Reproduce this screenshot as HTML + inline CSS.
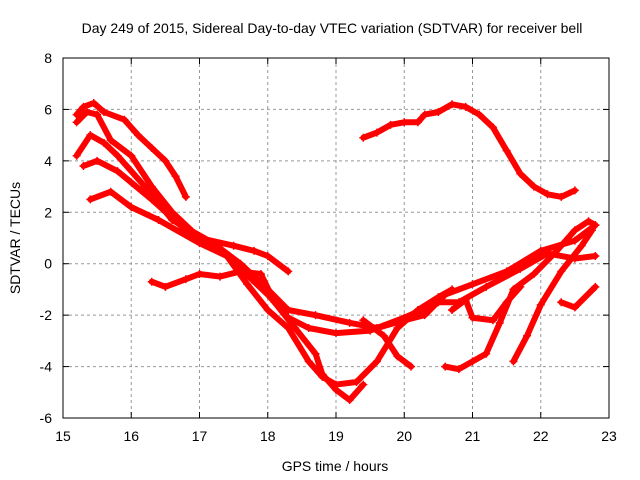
<!DOCTYPE html>
<html><head><meta charset="utf-8"><style>
body{margin:0;background:#fff;}
svg{display:block;font-family:"Liberation Sans",sans-serif;}
</style></head><body>
<svg id="chart" width="640" height="480">
<text x="332" y="33" font-size="14" text-anchor="middle">Day 249 of 2015, Sidereal Day-to-day VTEC variation (SDTVAR) for receiver bell</text>
<text x="335" y="471" font-size="14" text-anchor="middle">GPS time / hours</text>
<text x="20" y="238" font-size="14" text-anchor="middle" transform="rotate(-90 20 238)">SDTVAR / TECUs</text>
<g id="grid"></g><g id="ticks"></g><g id="series"></g>
<rect x="63" y="58" width="546" height="360" fill="none" stroke="#000"/>
</svg>
<script>
const xTicks=[15,16,17,18,19,20,21,22,23];
const yTicks=[-6,-4,-2,0,2,4,6,8];
const sA=[[19.4,4.9],[19.6,5.1],[19.8,5.4],[20.0,5.5],[20.2,5.5],[20.3,5.8],[20.5,5.9],[20.7,6.2],[20.9,6.1],[21.1,5.8],[21.3,5.3],[21.5,4.4],[21.7,3.5],[21.9,3.0],[22.1,2.7],[22.3,2.6],[22.5,2.85]];
const sB=[[15.2,5.8],[15.3,6.1],[15.45,6.25],[15.6,5.9],[15.9,5.6],[16.1,5.0],[16.3,4.5],[16.5,4.0],[16.65,3.4],[16.8,2.6]];
const sC=[[15.2,5.5],[15.35,5.9],[15.5,5.8],[15.7,4.8],[16.0,4.2],[16.3,3.0],[16.6,2.0],[17.0,1.0],[17.5,0.7],[17.8,0.5],[18.0,0.3],[18.3,-0.3]];
const sD=[[15.2,4.2],[15.4,5.0],[15.6,4.7],[15.8,4.2],[16.2,3.0],[16.6,1.7],[17.2,0.8],[17.6,0.0],[18.0,-1.0],[18.3,-1.8],[18.7,-2.0],[19.2,-2.3],[19.6,-2.5],[20.0,-2.2],[20.3,-2.0],[20.6,-1.2],[21.0,-0.8],[21.5,-0.3],[22.0,0.5],[22.5,0.9],[22.8,1.5]];
const sE=[[15.3,3.8],[15.5,4.0],[15.8,3.6],[16.3,2.5],[16.8,1.3],[17.3,0.6],[17.6,-0.2],[18.0,-1.2],[18.3,-2.1],[18.6,-2.5],[19.0,-2.7],[19.5,-2.6],[20.0,-2.1],[20.5,-1.5],[20.8,-1.5],[21.2,-0.9],[21.7,-0.2],[22.1,0.4],[22.5,0.2],[22.8,0.3]];
const sF=[[15.4,2.5],[15.7,2.8],[16.0,2.2],[16.4,1.7],[17.0,0.8],[17.4,0.3],[17.7,-0.8],[18.0,-1.8],[18.3,-2.5],[18.6,-3.8],[18.8,-4.4],[19.0,-4.7],[19.3,-4.6],[19.6,-3.8],[19.9,-2.5],[20.2,-1.8],[20.5,-1.3],[20.7,-1.0]];
const sG=[[16.3,-0.7],[16.5,-0.9],[16.8,-0.6],[17.0,-0.4],[17.3,-0.5],[17.6,-0.3],[17.9,-0.4],[18.1,-1.5],[18.4,-2.5],[18.7,-3.5],[18.8,-4.3],[19.0,-4.9],[19.2,-5.3],[19.4,-4.7]];
const sH=[[19.4,-2.2],[19.7,-2.8],[19.9,-3.6],[20.1,-4.0]];
const sI=[[20.6,-4.0],[20.8,-4.1],[21.0,-3.8],[21.2,-3.5],[21.4,-2.3],[21.6,-1.0],[21.9,-0.4],[22.2,0.4],[22.5,1.3],[22.7,1.65],[22.8,1.5]];
const sJ=[[21.6,-3.8],[21.8,-2.8],[22.0,-1.6],[22.3,-0.3],[22.6,0.7],[22.75,1.3]];
const sK=[[20.7,-1.8],[20.9,-1.4],[21.0,-2.1],[21.3,-2.2],[21.5,-1.5],[21.7,-0.9]];
const sL=[[22.3,-1.5],[22.5,-1.7],[22.8,-0.9]];
const seriesList=[sA,sB,sC,sD,sE,sF,sG,sH,sI,sJ,sK,sL];
const X=v=>63+(v-15)*546/8, Y=v=>418-(v+6)*360/14;
const NS="http://www.w3.org/2000/svg";
const grid=document.getElementById('grid'),ticks=document.getElementById('ticks'),ser=document.getElementById('series');
function mk(t,a,p){const e=document.createElementNS(NS,t);for(const k in a)e.setAttribute(k,a[k]);p.appendChild(e);return e;}
xTicks.forEach(v=>{const x=X(v);
 if(v>15&&v<23){const g=mk('line',{x1:x,x2:x,y1:58,y2:418,stroke:'#999','stroke-dasharray':'3,3'},grid);
 
 }
 mk('line',{x1:x,x2:x,y1:418,y2:412,stroke:'#000'},ticks);mk('line',{x1:x,x2:x,y1:58,y2:64,stroke:'#000'},ticks);
 const t=mk('text',{x:x,y:441,'font-size':14,'text-anchor':'middle'},ticks);t.textContent=v;
 
 });
yTicks.forEach(v=>{const y=Y(v);
 if(v>-6&&v<8){const g=mk('line',{x1:63,x2:609,y1:y,y2:y,stroke:'#999','stroke-dasharray':'3,3'},grid);
 
 }
 mk('line',{x1:63,x2:69,y1:y,y2:y,stroke:'#000'},ticks);mk('line',{x1:609,x2:603,y1:y,y2:y,stroke:'#000'},ticks);
 const t=mk('text',{x:52,y:y+5,'font-size':14,'text-anchor':'end'},ticks);t.textContent=v;
 
 });
seriesList.forEach((s,i)=>{
 const p=mk('polyline',{points:s.map(d=>X(d[0])+','+Y(d[1])).join(' '),fill:'none',stroke:'#f00','stroke-width':6,'stroke-linejoin':'round','stroke-linecap':'round'},ser);
 
 
 s.forEach(d=>{const x=X(d[0]),y=Y(d[1]);
  const m=mk('path',{d:`M${x-4} ${y}H${x+4}M${x} ${y-4}V${y+4}`,stroke:'#f00','stroke-width':1.5},ser);
  
  });
});
</script>
</body></html>
